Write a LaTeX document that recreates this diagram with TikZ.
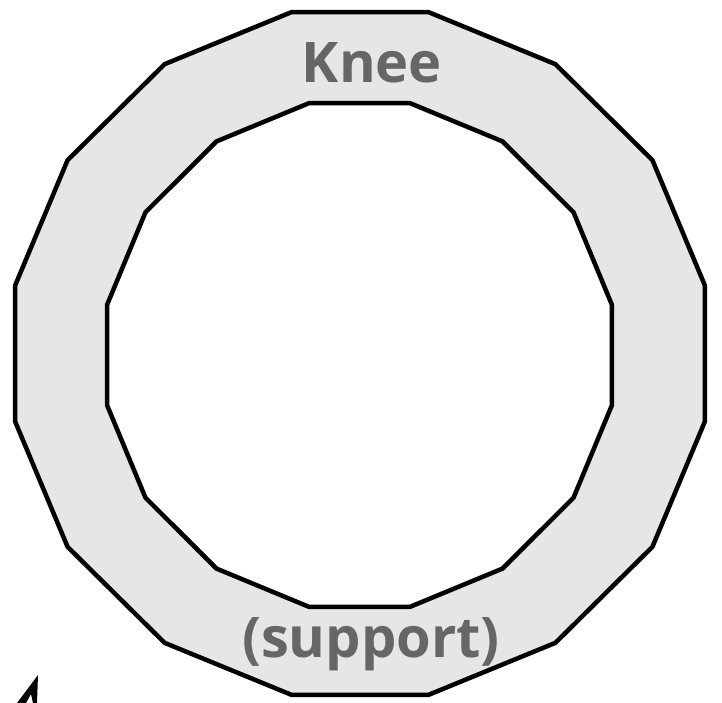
\documentclass[tikz,border=0pt]{standalone}
\usepackage{fontspec}
\setmainfont{Open Sans}
\definecolor{ringgrey}{HTML}{E6E6E6}
\definecolor{labelgrey}{HTML}{666666}
\tikzset{every node/.style={font=\fontsize{56}{60}\selectfont\bfseries},
  ring/.style={draw=black,line width=4.5pt,line join=miter}}
\begin{document}
\begin{tikzpicture}[x=1pt,y=-1pt,
    lbl/.style={inner sep=0pt,outer sep=0pt,text=labelgrey,anchor=base}]
  \path[use as bounding box] (0,0) rectangle (722,703);

  % Corners of the two 16-gons
  \foreach \i in {0,...,15}{
    \pgfmathsetmacro{\ang}{11.25+22.5*\i}
    \coordinate (o\i) at ({360+351.7*cos(\ang)},{353.5-348*sin(\ang)});
    \coordinate (n\i) at ({359.5+257.4*cos(\ang)},{355-256.9*sin(\ang)});
  }

  % Ring
  \fill[ringgrey,even odd rule] (o0) \foreach \i in {1,...,15}{ -- (o\i)} -- cycle
    (n0) \foreach \i in {1,...,15}{ -- (n\i)} -- cycle;
  \draw[ring] (o0) \foreach \i in {1,...,15}{ -- (o\i)} -- cycle;
  \draw[ring] (n0) \foreach \i in {1,...,15}{ -- (n\i)} -- cycle;

  % Labels
  \node[lbl] (knee) at (372,83) {Knee};
  \node[lbl] (support) at (371,657) {(support)};

  % Arrow tip cut off at the lower edge
  \fill[black] (38,675) -- (17,703) -- (26,703) -- (31,694) -- (33,703)
    -- (37,703) -- cycle;
\end{tikzpicture}
\end{document}
